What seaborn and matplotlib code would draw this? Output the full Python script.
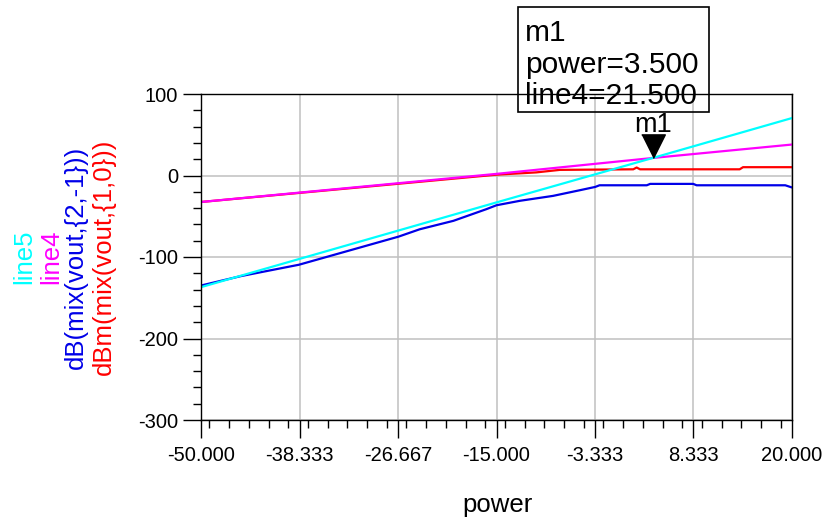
import matplotlib
matplotlib.use("Agg")
import matplotlib.pyplot as plt
import matplotlib.patches as mpatches
from matplotlib.ticker import FixedLocator, FixedFormatter, MultipleLocator
import seaborn as sns
import numpy as np

# ---------------- data ----------------
x_ticks = [-50.0, -38.333, -26.667, -15.0, -3.333, 8.333, 20.0]
x_tick_labels = ["-50.000", "-38.333", "-26.667", "-15.000", "-3.333", "8.333", "20.000"]
y_ticks = [-300, -200, -100, 0, 100]
y_tick_labels = ["-300", "-200", "-100", "0", "100"]

# line5 (cyan)
line5_power = [-50, -15, 3.5, 20]
line5_vals = [-137, -33, 21.5, 70.5]

# line4 (magenta)
line4_power = [-50, -15, 3.5, 20]
line4_vals = [-32.5, 2.0, 21.5, 38.0]

# dB(mix(vout,{2,-1})) (blue)
im3_power = [-50, -45.3, -38.4, -26.6, -24.1, -20.1, -16.2, -15.0, -12.2, -8.3,
             -5.1, -3.3, -2.8, 2.8, 3.2, 8.3, 8.7, 19.2, 20.0]
im3_vals = [-135, -123.5, -109.5, -75, -66, -55.6, -41.3, -36.5, -31, -25,
            -18, -14, -12, -12, -10.3, -10.3, -12, -12, -14.7]

# dBm(mix(vout,{1,0})) (red)
fund_power = [-50, -15, -10.3, -7.5, 1.2, 1.6, 2.0, 13.8, 14.2, 20.0]
fund_vals = [-32.5, 1.0, 3.8, 6.9, 7.6, 9.8, 7.6, 7.6, 10.2, 10.2]

# marker m1
m1_power = 3.5
m1_value = 21.5

series_labels = ["line5", "line4", "dB(mix(vout,{2,-1}))", "dBm(mix(vout,{1,0}))"]
series_colors = ["#00FFFF", "#FF00FF", "#0000E8", "#FF0000"]

# ---------------- style ----------------
sns.set_style("white")
plt.rcParams['font.family'] = ['Liberation Sans', 'DejaVu Sans']
plt.rcParams['axes.unicode_minus'] = False

W, H = 826, 520
fig = plt.figure(figsize=(W / 100, H / 100), dpi=100)
left, right, top, bottom = 201, 792, 94, 420
ax = fig.add_axes([left / W, 1 - bottom / H, (right - left) / W, (bottom - top) / H])

lw = 1.6
# draw order: red, blue, magenta, cyan
sns.lineplot(x=fund_power, y=fund_vals, color=series_colors[3], lw=lw, ax=ax, sort=False)
sns.lineplot(x=im3_power, y=im3_vals, color=series_colors[2], lw=lw, ax=ax, sort=False)
sns.lineplot(x=line4_power, y=line4_vals, color=series_colors[1], lw=lw, ax=ax, sort=False)
sns.lineplot(x=line5_power, y=line5_vals, color=series_colors[0], lw=lw, ax=ax, sort=False)

ax.set_xlim(-50, 20)
ax.set_ylim(-300, 100)

ax.xaxis.set_major_locator(FixedLocator(x_ticks))
ax.xaxis.set_major_formatter(FixedFormatter(x_tick_labels))
ax.xaxis.set_minor_locator(MultipleLocator(70 / 30))
ax.yaxis.set_major_locator(FixedLocator(y_ticks))
ax.yaxis.set_major_formatter(FixedFormatter(y_tick_labels))
ax.yaxis.set_minor_locator(MultipleLocator(20))

ax.grid(True, which='major', color='#C0C0C0', lw=1.1)
ax.set_axisbelow(True)
for s in ax.spines.values():
    s.set_visible(True)
    s.set_color('black')
    s.set_linewidth(1.0)

ax.tick_params(axis='both', which='major', direction='out', length=13, width=1.0,
               color='black', labelsize=14.5, labelcolor='black')
ax.tick_params(axis='x', which='major', pad=6)
ax.tick_params(axis='y', which='major', pad=3.5)
ax.tick_params(axis='both', which='minor', direction='out', length=6, width=1.0,
               color='black')
ax.tick_params(top=False, right=False, which='both')
ax.tick_params(bottom=True, left=True, which='both')

ax.set_xlabel("")
ax.set_ylabel("")

# x label
fig.text(497 / W, 1 - 512 / H, "power", ha='center', va='baseline', fontsize=18.5, color='black')

# stacked coloured y labels
ycenter = 1 - ((top + bottom) / 2) / H
baselines = [31, 58, 83, 111]
for bx, txt, col in zip(baselines, series_labels, series_colors):
    fig.text(bx / W, ycenter, txt, rotation=90, rotation_mode='anchor',
             ha='center', va='baseline', fontsize=18.5, color=col)

# marker m1
ax.plot([m1_power], [m1_value], linestyle='none',
        marker=[(-0.5, 1.0), (0.5, 1.0), (0.0, 0.0)], ms=34,
        mfc='black', mec='black', zorder=10, clip_on=False)
ax.annotate("m1", xy=(m1_power, m1_value), xytext=(0, 18.5), textcoords='offset points',
            ha='center', va='baseline', fontsize=19.5, color='black', annotation_clip=False)

# readout box
box = mpatches.Rectangle((518 / W, 1 - 112 / H), (709 - 518) / W, (112 - 7) / H,
                         transform=fig.transFigure, fill=False, ec='black', lw=1.2)
fig.add_artist(box)
box_lines = ["m1", "power=%.3f" % m1_power, "line4=%.3f" % m1_value]
box_baselines = [40.7, 73.3, 104.0]
for txt, by in zip(box_lines, box_baselines):
    fig.text(525 / W, 1 - by / H, txt, ha='left', va='baseline', fontsize=21.5, color='black')

fig.savefig("out.png", dpi=100)
